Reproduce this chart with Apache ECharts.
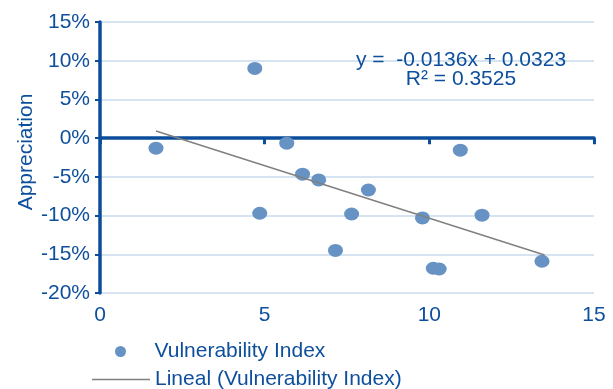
<!DOCTYPE html>
<html><head><meta charset="utf-8">
<script src="https://cdn.jsdelivr.net/npm/echarts@6/dist/echarts.min.js"></script>
<style>html,body{margin:0;padding:0;background:#fff}#c{width:613px;height:389px}</style>
</head><body><div id="c"></div>
<script>
var vulnIndex = [1.70, 4.70, 5.67, 6.15, 4.85, 6.64, 7.15, 7.64, 8.15, 9.79, 10.12, 10.30, 10.94, 11.60, 13.42];
var appreciation = [-1.3, 9.0, -0.65, -4.65, -9.7, -5.4, -14.5, -9.8, -6.7, -10.3, -16.8, -16.9, -1.55, -9.95, -15.9];
var trendX = [1.7, 13.5];
var trendY = [0.92, -15.1];
var xTicks = [0, 5, 10, 15];
var yTicks = [-20, -15, -10, -5, 0, 5, 10, 15];
var eqLine1 = 'y =  -0.0136x + 0.0323';
var eqLine2 = 'R² = 0.3525';
var seriesName = 'Vulnerability Index';
var trendName = 'Lineal (Vulnerability Index)';

var blue = '#0b4d9a';
var txt = '#0d4f9c';
var font = 'Liberation Sans';
var fs = 21;
var chart = echarts.init(document.getElementById('c'), null, {renderer: 'canvas'});
var scatterData = vulnIndex.map(function (v, i) { return [v, appreciation[i]]; });
var trendData = trendX.map(function (v, i) { return [v, trendY[i]]; });
chart.setOption({
  animation: false,
  textStyle: {fontFamily: font},
  grid: {left: 100, right: 19, top: 22, bottom: 96},
  xAxis: [{
    type: 'value', min: xTicks[0], max: xTicks[xTicks.length - 1], interval: 5,
    position: 'bottom',
    axisLine: {show: false, onZero: false},
    axisTick: {show: false},
    splitLine: {show: false},
    axisLabel: {color: txt, fontSize: fs, fontFamily: font, margin: 12}
  }, {
    type: 'value', min: xTicks[0], max: xTicks[xTicks.length - 1], interval: 5,
    position: 'bottom',
    axisLine: {show: true, onZero: true, lineStyle: {color: blue, width: 3.5}},
    axisTick: {show: true, length: 6, lineStyle: {color: blue, width: 3}},
    axisLabel: {show: false},
    splitLine: {show: false}
  }],
  yAxis: {
    type: 'value', min: yTicks[0], max: yTicks[yTicks.length - 1], interval: 5,
    axisLine: {show: true, onZero: false, lineStyle: {color: blue, width: 3.5}},
    axisTick: {show: true, length: 5, lineStyle: {color: blue, width: 2}},
    axisLabel: {color: txt, fontSize: fs, fontFamily: font, margin: 10, formatter: '{value}%'},
    splitLine: {show: true, lineStyle: {color: '#c9daed', width: 1.5}}
  },
  legend: [{
    data: [{name: seriesName, icon: 'circle'}], orient: 'vertical', left: 115, top: 341, padding: 0,
    itemWidth: 58, itemHeight: 11,
    textStyle: {color: txt, fontSize: fs, fontFamily: font}
  }, {
    data: [{name: trendName, icon: 'path://M0,0 L58,0 L58,1.5 L0,1.5 Z'}], orient: 'vertical', left: 92, top: 369, padding: 0,
    itemWidth: 58, itemHeight: 11,
    textStyle: {color: txt, fontSize: fs, fontFamily: font}
  }],
  graphic: [{
    type: 'text', x: 26, y: 152, rotation: Math.PI / 2, z: 100,
    style: {text: 'Appreciation', fill: txt, font: fs + 'px "Liberation Sans"', align: 'center', verticalAlign: 'middle'}
  }, {
    type: 'text', x: 461, y: 60, z: 100,
    style: {text: eqLine1, fill: txt, font: fs + 'px "Liberation Sans"', align: 'center', verticalAlign: 'middle'}
  }, {
    type: 'text', x: 461, y: 79, z: 100,
    style: {text: eqLine2, fill: txt, font: fs + 'px "Liberation Sans"', align: 'center', verticalAlign: 'middle'}
  }],
  series: [{
    name: seriesName, type: 'scatter', xAxisIndex: 0, data: scatterData,
    symbol: 'circle', symbolSize: [15, 13],
    itemStyle: {color: '#6693c3', opacity: 1}
  }, {
    name: trendName, type: 'line', xAxisIndex: 0, data: trendData,
    symbol: 'none', lineStyle: {color: '#808080', width: 1.5},
    itemStyle: {color: '#808080'}
  }]
});
</script></body></html>
